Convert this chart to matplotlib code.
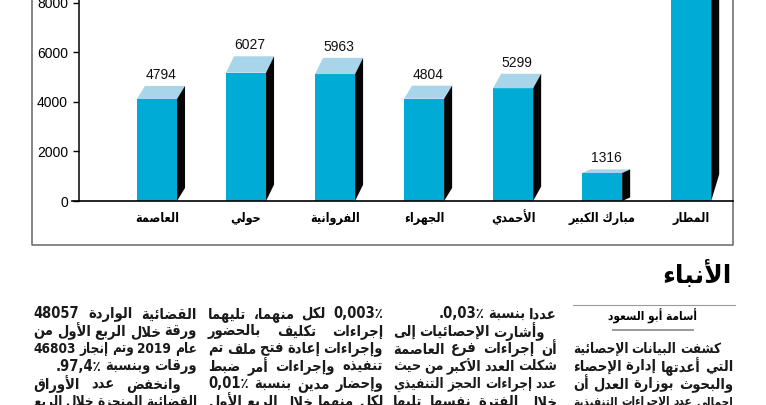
import matplotlib
matplotlib.use("Agg")
import matplotlib.pyplot as plt

# Chart data (label values as printed on the bars)
categories = ["العاصمة", "حولي", "الفروانية", "الجهراء", "الأحمدي", "مبارك الكبير", "المطار"]
values = [4794, 6027, 5963, 4804, 5299, 1316, 9800]   # airport bar runs off the top, value guessed
yticks = [0, 2000, 4000, 6000, 8000]

# Newspaper text columns, logical order, one list per column
col_a = ["القضائية الواردة 48057", "ورقة خلال الربع الأول من", "عام 2019 وتم إنجاز 46803",
         "ورقات وبنسبة 97,4٪.", "وانخفض عدد الأوراق", "القضائية المنجزة خلال الربع"]
col_b = ["0,003٪ لكل منهما، تليهما", "إجراءات تكليف بالحضور", "وإجراءات إعادة فتح ملف تم",
         "تنفيذه وإجراءات أمر ضبط", "وإحضار مدين بنسبة 0,01٪", "لكل منهما خلال الربع الأول"]
col_c = ["عددا بنسبة 0,03٪.", "وأشارت الإحصائيات إلى", "أن إجراءات فرع العاصمة",
         "شكلت العدد الأكبر من حيث", "عدد إجراءات الحجز التنفيذي", "خلال الفترة نفسها تليها"]
col_d = ["كشفت البيانات الإحصائية", "التي أعدتها إدارة الإحصاء", "والبحوث بوزارة العدل أن",
         "إجمالي عدد الإجراءات التنفيذية"]
byline = "أسامة أبو السعود"
logo = "الأنباء"

# --- tiny Arabic shaper (matplotlib does no joining / bidi by itself) ---
RJ = {'آ': 0xFE81, 'أ': 0xFE83, 'ؤ': 0xFE85, 'إ': 0xFE87, 'ا': 0xFE8D, 'ة': 0xFE93,
      'د': 0xFEA9, 'ذ': 0xFEAB, 'ر': 0xFEAD, 'ز': 0xFEAF, 'و': 0xFEED, 'ى': 0xFEEF}
DJ = {'ئ': 0xFE89, 'ب': 0xFE8F, 'ت': 0xFE95, 'ث': 0xFE99, 'ج': 0xFE9D, 'ح': 0xFEA1,
      'خ': 0xFEA5, 'س': 0xFEB1, 'ش': 0xFEB5, 'ص': 0xFEB9, 'ض': 0xFEBD, 'ط': 0xFEC1,
      'ظ': 0xFEC5, 'ع': 0xFEC9, 'غ': 0xFECD, 'ف': 0xFED1, 'ق': 0xFED5, 'ك': 0xFED9,
      'ل': 0xFEDD, 'م': 0xFEE1, 'ن': 0xFEE5, 'ه': 0xFEE9, 'ي': 0xFEF1}
LAM_ALEF = {'آ': 0xFEF5, 'أ': 0xFEF7, 'إ': 0xFEF9, 'ا': 0xFEFB}


def shape(word):
    units = []
    i = 0
    while i < len(word):
        if word[i] == 'ل' and i + 1 < len(word) and word[i + 1] in LAM_ALEF:
            units.append(('LA', word[i + 1]))
            i += 2
        else:
            units.append(('C', word[i]))
            i += 1

    def fwd(u):
        return u[0] == 'C' and (u[1] in DJ or u[1] == 'ـ')

    def back(u):
        return u[0] == 'LA' or u[1] in DJ or u[1] in RJ or u[1] == 'ـ'

    out = []
    for k, u in enumerate(units):
        jp = k > 0 and fwd(units[k - 1]) and back(u)
        jn = k + 1 < len(units) and fwd(u) and back(units[k + 1])
        kind, c = u
        if kind == 'LA':
            out.append(chr(LAM_ALEF[c] + (1 if jp else 0)))
        elif c in DJ:
            out.append(chr(DJ[c] + (3 if jp and jn else 1 if jp else 2 if jn else 0)))
        elif c in RJ:
            out.append(chr(RJ[c] + (1 if jp else 0)))
        elif c == 'ء':
            out.append('\uFE80')
        else:
            out.append(c)
    return ''.join(out)


def visual(word):
    if any(ch.isdigit() for ch in word):
        core = word.rstrip('.')
        return word[len(core):] + core
    return shape(word)[::-1]


def visual_line(text):
    return ' '.join(visual(w) for w in text.split()[::-1])


ar_font = ['DejaVu Sans']
num_font = ['Liberation Sans', 'DejaVu Sans']

fig = plt.figure(figsize=(7.66, 4.05), dpi=100)
fig.patch.set_facecolor('white')

# --- bar chart ---
ax = fig.add_axes([79 / 766, 204 / 405, (733 - 79) / 766, 201 / 405])
ax.set_xlim(-0.876, 6.47)
ax.set_ylim(0, 8121)

width = 0.45
dx = 0.09
front_col = '#00acd6'
top_col = '#a8d5e9'
side_col = '#050505'

for i, v in enumerate(values):
    front = v * 0.86
    back = v * 0.97
    x0 = i - width / 2
    x1 = i + width / 2
    ax.fill([x0, x1, x1, x0], [0, 0, front, front], color=front_col, lw=0, zorder=3)
    ax.fill([x0, x1, x1 + dx, x0 + dx], [front, front, back, back], color=top_col, lw=0, zorder=3)
    ax.fill([x1, x1, x1 + dx, x1 + dx], [0, front, back, back - front], color=side_col, lw=0, zorder=3)
    ax.annotate(str(v), xy=(i + dx / 2, back), xytext=(0, 11), textcoords='offset pixels',
                ha='center', va='center', fontsize=10, family=num_font, color='#111')

ax.axhline(0, xmin=-0.01, xmax=1, color='black', lw=1.2, clip_on=False, zorder=4)
for s in ['top', 'right', 'bottom']:
    ax.spines[s].set_visible(False)
ax.spines['left'].set_linewidth(1.1)
ax.set_yticks(yticks)
ax.set_yticklabels([str(t) for t in yticks], family=num_font, fontsize=10)
ax.tick_params(axis='y', length=4, width=1, pad=4)
ax.set_xticks(range(len(categories)))
ax.set_xticklabels([visual_line(c) for c in categories], family=ar_font,
                   fontweight='bold', fontsize=9, fontstretch='condensed', va='baseline')
ax.tick_params(axis='x', length=0, pad=15)
ax.set_facecolor('none')

# --- overlay in pixel coordinates for frame and page text ---
ov = fig.add_axes([0, 0, 1, 1], zorder=-1)
ov.set_xlim(0, 766)
ov.set_ylim(405, 0)
ov.axis('off')

ov.plot([32, 32, 733, 733], [0, 245, 245, 0], color='#666666', lw=1.1)

renderer = fig.canvas.get_renderer()


def put_line(text, x_left, x_right, y, size=10.5, justify=True, indent=0):
    words = [visual(w) for w in text.split()]
    while True:
        items = [ov.text(0, y, w, fontsize=size, family=ar_font, fontweight='bold',
                         fontstretch='condensed', ha='left', va='center', color='#1a1a1a')
                 for w in words]
        widths = [t.get_window_extent(renderer).width for t in items]
        avail = x_right - indent - x_left
        if sum(widths) + 3 * (len(words) - 1) <= avail or size < 6:
            break
        for t in items:
            t.remove()
        size -= 0.25
    if justify and len(words) > 1:
        gap = (avail - sum(widths)) / (len(words) - 1)
    else:
        gap = size * 0.35
    x = x_right - indent
    for t, w in zip(items, widths):
        t.set_x(x - w)
        x -= w + gap


def put_column(lines, x_left, x_right, y0, step, last=(), indents=None):
    indents = indents or {}
    for k, line in enumerate(lines):
        put_line(line, x_left, x_right, y0 + k * step,
                 justify=k not in last, indent=indents.get(k, 0))


put_column(col_a, 33, 197, 314, 17.5, last=(3,), indents={4: 16})
put_column(col_b, 208, 383, 314, 17.5)
put_column(col_c, 393, 557, 314, 17.5, last=(0,), indents={1: 12})
put_column(col_d, 573, 733, 349, 17.5, indents={0: 12})

# masthead logo, byline and rules
ov.text(697, 274, visual_line(logo), fontsize=18, family=ar_font, fontweight='bold',
        ha='center', va='center', color='black')
ov.plot([573, 735], [305, 305], color='#9a9a9a', lw=0.8)
ov.text(653, 316, visual_line(byline), fontsize=8.5, family=ar_font, fontweight='bold',
        fontstretch='condensed', ha='center', va='center', color='black')
ov.plot([613, 693], [330, 330], color='#9a9a9a', lw=1.4)

fig.savefig("out.png", dpi=100, facecolor='white')
